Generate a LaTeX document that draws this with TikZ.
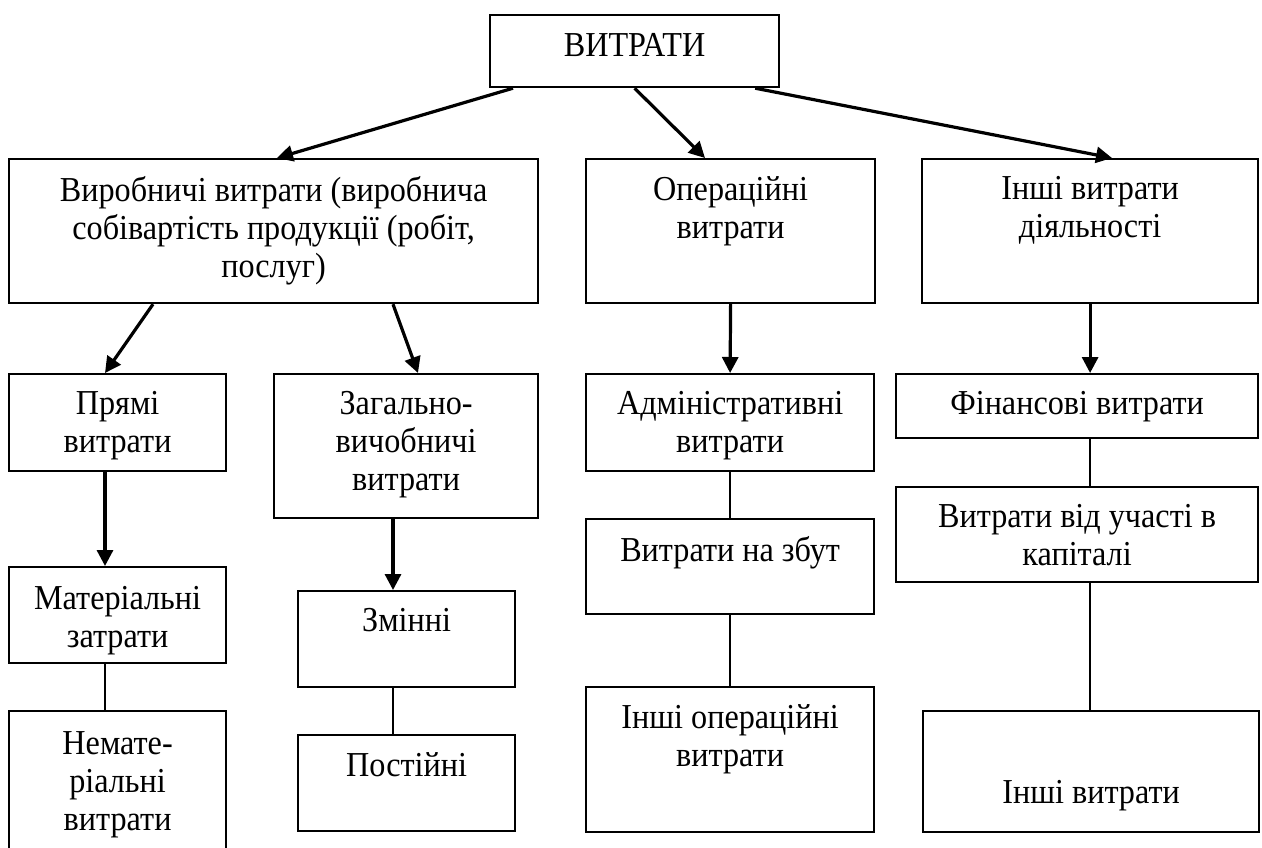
\documentclass[tikz,border=0pt]{standalone}
\usepackage{fontspec}
\setmainfont{Liberation Serif}[FakeStretch=0.92]
\usetikzlibrary{arrows.meta}

\tikzset{
  box/.style={draw,line width=1.1pt,inner sep=0pt,anchor=north west},
  lbl/.style={anchor=north,align=center,inner sep=0pt,yshift=-9pt,
    font=\fontsize{17.5pt}{19pt}\selectfont},
  arr/.style={-{Triangle[width=8pt,length=8pt]},line width=1.6pt},
  con/.style={line width=0.9pt}
}

\begin{document}
\begin{tikzpicture}[x=0.5pt,y=-0.5pt]
    \useasboundingbox (0,0) rectangle (1262,847);

    % boxes
    \node[box,minimum width=144.5pt,minimum height=36pt,label={[lbl,yshift=-0.5pt]north:ВИТРАТИ}] (vytraty) at (489,14) {};
    \node[box,minimum width=264.5pt,minimum height=72pt,label={[lbl]north:{Виробничі витрати (виробнича\\собівартість продукції (робіт,\\послуг)}}] (vyrob) at (8,158) {};
    \node[box,minimum width=144.5pt,minimum height=72pt,label={[lbl]north:{Операційні\\витрати}}] (oper) at (585,158) {};
    \node[box,minimum width=168pt,minimum height=72pt,label={[lbl]north:{Інші витрати\\діяльності}}] (inshi) at (921,158) {};

    \node[box,minimum width=108.5pt,minimum height=48.5pt,label={[lbl]north:{Прямі\\витрати}}] (pryami) at (8,373) {};
    \node[box,minimum width=132pt,minimum height=72pt,label={[lbl]north:{Загально-\\вичобничі\\витрати}}] (zagal) at (273,373) {};
    \node[box,minimum width=144pt,minimum height=48.5pt,label={[lbl]north:{Адміністративні\\витрати}}] (admin) at (585,373) {};
    \node[box,minimum width=181pt,minimum height=32pt,label={[lbl]north:{Фінансові витрати}}] (fin) at (895,373) {};

    \node[box,minimum width=108.5pt,minimum height=48pt,label={[lbl,yshift=-1pt]north:{Матеріальні\\затрати}}] (mater) at (8,566) {};
    \node[box,minimum width=108.5pt,minimum height=75pt,label={[lbl,yshift=-1.5pt]north:{Немате-\\ріальні\\витрати}}] (nemat) at (8,710) {};
    \node[box,minimum width=108.5pt,minimum height=48pt,label={[lbl]north:{Змінні}}] (zminni) at (297,590) {};
    \node[box,minimum width=108.5pt,minimum height=48pt,label={[lbl]north:{Постійні}}] (postiyni) at (297,734) {};

    \node[box,minimum width=144pt,minimum height=47.5pt,label={[lbl]north:{Витрати на збут}}] (zbut) at (585,518) {};
    \node[box,minimum width=144pt,minimum height=72.5pt,label={[lbl]north:{Інші операційні\\витрати}}] (inshiop) at (585,686) {};
    \node[box,minimum width=181pt,minimum height=47.5pt,label={[lbl]north:{Витрати від участі в\\капіталі}}] (uchast) at (895,486) {};
    \node[box,minimum width=168pt,minimum height=60.5pt,label={[lbl,yshift=-26pt]north:{Інші витрати}}] (inshivyt) at (922,710) {};

    % arrows
    \draw[arr] ([xshift=12pt]vytraty.south west) -- ([xshift=134.5pt]vyrob.north west);
    \draw[arr] (vytraty.south) -- ([xshift=60pt]oper.north west);
    \draw[arr] ([xshift=-12.5pt]vytraty.south east) -- ([xshift=95.5pt]inshi.north west);
    \draw[arr] ([xshift=72.5pt]vyrob.south west) -- ([xshift=48.5pt]pryami.north west);
    \draw[arr] ([xshift=192.5pt]vyrob.south west) -- ([xshift=72.5pt]zagal.north west);
    \draw[arr] (oper.south) -- (admin.north);
    \draw[arr] (inshi.south) -- (inshi.south |- fin.north);
    \draw[arr] ([xshift=48.5pt]pryami.south west) -- ([xshift=48.5pt]mater.north west);
    \draw[arr] ([xshift=60pt]zagal.south west) -- ([xshift=48pt]zminni.north west);

    % plain links
    \draw[con] ([xshift=48.5pt]mater.south west) -- ([xshift=48.5pt]nemat.north west);
    \draw[con] ([xshift=48pt]zminni.south west) -- ([xshift=48pt]postiyni.north west);
    \draw[con] (admin.south) -- (zbut.north);
    \draw[con] (zbut.south) -- (inshiop.north);
    \draw[con] (inshi.south |- fin.south) -- (inshi.south |- uchast.north);
    \draw[con] (inshi.south |- uchast.south) -- (inshi.south |- inshivyt.north);
\end{tikzpicture}
\end{document}
